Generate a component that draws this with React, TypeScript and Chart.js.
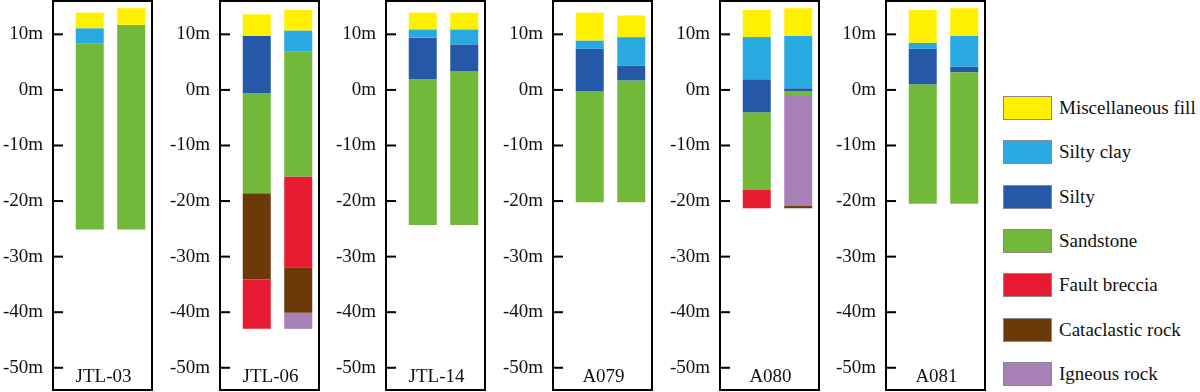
import React, { useEffect, useRef, useState } from 'react';
import { Chart, registerables } from 'chart.js';

Chart.register(...registerables);

const LITHOLOGY_NAMES = [
  'Miscellaneous fill',
  'Silty clay',
  'Silty',
  'Sandstone',
  'Fault breccia',
  'Cataclastic rock',
  'Igneous rock',
];
const LITHOLOGY_COLORS = ['#FFF000', '#29A9E1', '#2559A7', '#72B83B', '#E71A32', '#6B3A08', '#A680B7'];
const BOREHOLE_NAMES = ['JTL-03', 'JTL-06', 'JTL-14', 'A079', 'A080', 'A081'];
const COLUMN_LABELS = ['1', '2'];
const DEPTH_TICKS = [10, 0, -10, -20, -30, -40, -50];
const DEPTH_MIN = -54;
const DEPTH_MAX = 16;

// each column: lithology index of each layer (top → bottom) and the layer boundaries in m
const JTL03_COLUMNS = [
  { lith: [0, 1, 3], bounds: [13.9, 11.1, 8.4, -25.1] },
  { lith: [0, 3], bounds: [14.7, 11.7, -25.1] },
];
const JTL06_COLUMNS = [
  { lith: [0, 2, 3, 5, 4], bounds: [13.6, 9.7, -0.6, -18.6, -34.1, -43.0] },
  { lith: [0, 1, 3, 4, 5, 6], bounds: [14.4, 10.7, 6.9, -15.6, -31.9, -40.1, -43.0] },
];
const JTL14_COLUMNS = [
  { lith: [0, 1, 2, 3], bounds: [13.9, 10.9, 9.4, 1.9, -24.3] },
  { lith: [0, 1, 2, 3], bounds: [13.9, 10.9, 8.2, 3.4, -24.3] },
];
const A079_COLUMNS = [
  { lith: [0, 1, 2, 3], bounds: [13.9, 8.9, 7.4, -0.2, -20.2] },
  { lith: [0, 1, 2, 3], bounds: [13.4, 9.5, 4.4, 1.7, -20.2] },
];
const A080_COLUMNS = [
  { lith: [0, 1, 2, 3, 4], bounds: [14.4, 9.5, 1.9, -4.0, -18.0, -21.3] },
  { lith: [0, 1, 2, 3, 6, 5], bounds: [14.7, 9.7, 0.3, -0.2, -1.1, -20.9, -21.3] },
];
const A081_COLUMNS = [
  { lith: [0, 1, 2, 3], bounds: [14.4, 8.5, 7.4, 1.0, -20.5] },
  { lith: [0, 1, 2, 3], bounds: [14.7, 9.7, 4.2, 3.2, -20.5] },
];
const ALL_COLUMNS = [JTL03_COLUMNS, JTL06_COLUMNS, JTL14_COLUMNS, A079_COLUMNS, A080_COLUMNS, A081_COLUMNS];

const FONT_FAMILY = "'Liberation Serif', serif";
const FRAME_INSET = 16;

type Column = { lith: number[]; bounds: number[] };

function Panel({ name, columns, left }: { name: string; columns: Column[]; left: number }) {
  const ref = useRef<HTMLCanvasElement | null>(null);
  useEffect(() => {
    if (!ref.current) return;
    const datasets = LITHOLOGY_NAMES.map((lname, k) => {
      const data = columns.map((col) => {
        const j = col.lith.indexOf(k);
        return j < 0 ? null : [col.bounds[j + 1], col.bounds[j]];
      });
      return {
        label: lname,
        data,
        backgroundColor: LITHOLOGY_COLORS[k],
        borderWidth: 0,
        grouped: false,
        categoryPercentage: 1,
        barPercentage: 0.675,
      };
    });
    const framePlugin = {
      id: 'frame',
      afterDraw(chart: any) {
        const { ctx, chartArea: a, scales } = chart;
        const fl = a.left - FRAME_INSET;
        ctx.save();
        ctx.strokeStyle = '#000';
        ctx.lineWidth = 2;
        ctx.strokeRect(fl, a.top, a.right - fl, a.bottom - a.top);
        DEPTH_TICKS.forEach((v) => {
          const y = scales.y.getPixelForValue(v);
          ctx.beginPath();
          ctx.moveTo(fl, y);
          ctx.lineTo(fl + 10, y);
          ctx.stroke();
        });
        ctx.fillStyle = '#111';
        ctx.font = `19px ${FONT_FAMILY}`;
        ctx.textAlign = 'center';
        ctx.textBaseline = 'alphabetic';
        ctx.fillText(name, (fl + a.right) / 2 + 1, a.bottom - 8);
        ctx.restore();
      },
    };
    let chart: Chart | null = null;
    let cancelled = false;
    const build = () => {
      if (cancelled || !ref.current) return;
      chart = new Chart(ref.current, {
        type: 'bar',
        data: { labels: COLUMN_LABELS, datasets: datasets as any },
        options: {
          animation: false,
          responsive: false,
          layout: { padding: { top: 1, right: 8, bottom: 2, left: 0 } },
          plugins: { legend: { display: false }, tooltip: { enabled: false } },
          scales: {
            x: { display: false },
            y: {
              type: 'linear',
              min: DEPTH_MIN,
              max: DEPTH_MAX,
              afterBuildTicks: (s: any) => {
                s.ticks = DEPTH_TICKS.map((v) => ({ value: v }));
              },
              afterFit: (s: any) => {
                s.width = 53 + FRAME_INSET;
                s.paddingTop = 0;
                s.paddingBottom = 0;
              },
              grid: { display: false, drawTicks: false },
              border: { display: false },
              ticks: {
                padding: 10 + FRAME_INSET,
                color: '#111',
                font: { family: FONT_FAMILY, size: 19 },
                callback: (v: any) => `${v}m`,
              },
            },
          },
        },
        plugins: [framePlugin],
      });
    };
    const fonts = (document as any).fonts;
    if (fonts && fonts.load) {
      fonts.load(`19px ${FONT_FAMILY}`).then(build, build);
    } else {
      build();
    }
    return () => {
      cancelled = true;
      if (chart) chart.destroy();
    };
  }, [name, columns]);
  return (
    <div style={{ position: 'absolute', left, top: 0, width: 160, height: 392 }}>
      <canvas ref={ref} width={160} height={392} />
    </div>
  );
}

export default function App() {
  return (
    <div style={{ position: 'absolute', left: 0, top: 0, width: 1200, height: 392, background: '#fff', overflow: 'hidden' }}>
      {BOREHOLE_NAMES.map((n, i) => (
        <Panel key={n} name={n} columns={ALL_COLUMNS[i]} left={Math.round(i * 166.67)} />
      ))}
      {LITHOLOGY_NAMES.map((n, i) => (
        <div key={n} style={{ position: 'absolute', left: 1003, top: Math.round(96 + i * 44.3), height: 24, display: 'flex', alignItems: 'center' }}>
          <div style={{ width: 47, height: 22, background: LITHOLOGY_COLORS[i], border: '1px solid #8a8a8a' }} />
          <span style={{ marginLeft: 7, fontFamily: FONT_FAMILY, fontSize: 19, color: '#111', whiteSpace: 'nowrap' }}>{n}</span>
        </div>
      ))}
    </div>
  );
}
